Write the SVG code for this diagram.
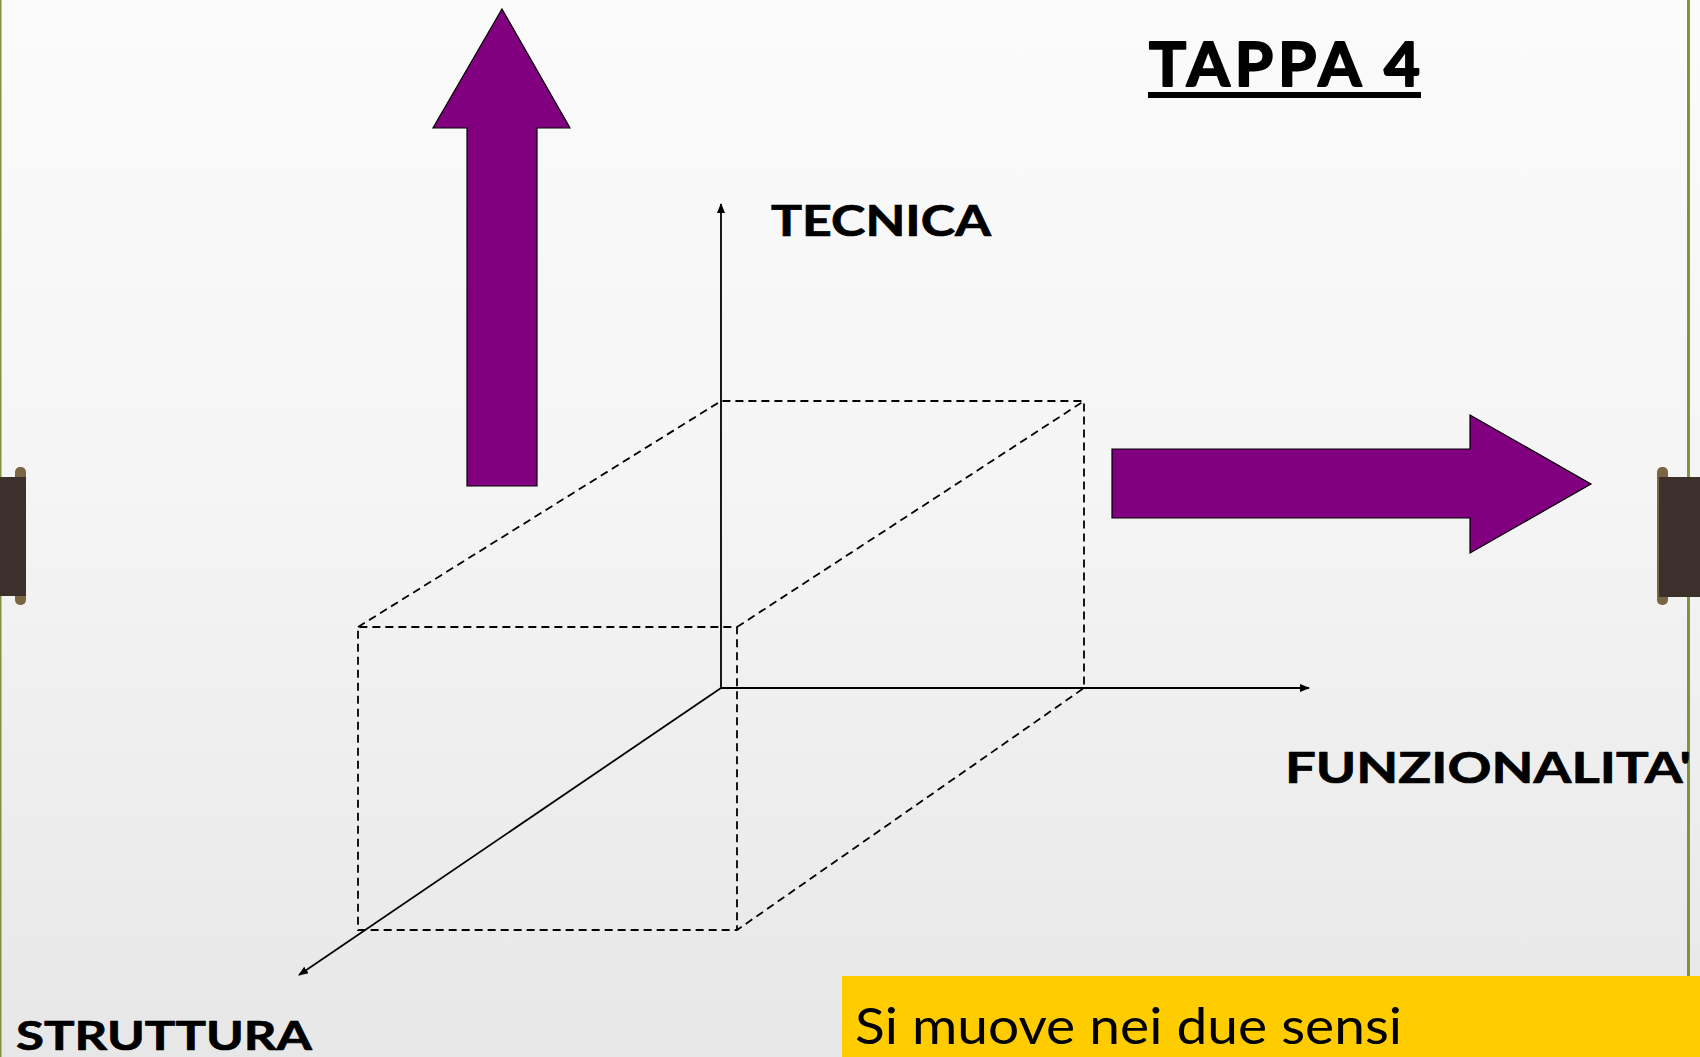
<svg xmlns="http://www.w3.org/2000/svg" width="1700" height="1057" viewBox="0 0 1700 1057">
<style>
.ax{fill:none;stroke:#000;stroke-width:1.8}
.da{fill:none;stroke:#000;stroke-width:1.8;stroke-dasharray:8 5}
.big{fill:#800080;stroke:#000;stroke-width:1.2}
.tab{fill:#3b302b}
.knob{fill:#7a6544}
.lb{font-family:"Lato","Open Sans",sans-serif;font-weight:700;fill:#000;stroke:#000;stroke-width:.7;stroke-linejoin:round}
</style>
<defs>
<linearGradient id="bg" x1="0" y1="0" x2="0" y2="1"><stop offset="0" stop-color="#fbfbfb"/><stop offset=".45" stop-color="#f5f5f5"/><stop offset="1" stop-color="#e7e7e7"/></linearGradient>
<marker id="ah" markerWidth="12" markerHeight="10" refX="9" refY="4" orient="auto" markerUnits="userSpaceOnUse"><path d="M0 0L10 4L0 8Z" fill="#000"/></marker>
</defs>
<rect id="background" width="1700" height="1057" fill="url(#bg)"/>
<g id="frame">
<rect x="0" y="0" width="1.5" height="1057" fill="#7f9440"/>
<rect x="1687" y="0" width="3" height="976" fill="#7f9440"/>
<rect class="knob" x="15" y="467" width="11" height="138" rx="5"/>
<rect class="tab" x="0" y="477" width="26" height="119"/>
<rect class="knob" x="1657" y="467" width="11" height="138" rx="5"/>
<rect class="tab" x="1659" y="477" width="41" height="120"/>
</g>
<g id="connectors">
<path class="ax" d="M721 688V204" marker-end="url(#ah)"/>
<path class="ax" d="M721 688H1309" marker-end="url(#ah)"/>
<path class="ax" d="M721 688L299 975" marker-end="url(#ah)"/>
<path class="da" d="M358 627L721 401H1084V688L737 930H358V627H737V930"/>
<path class="da" d="M737 627L1084 401"/>
</g>
<g id="arrow-up"><path class="big" d="M502 9L570 128H537V486H467V128H433Z"/></g>
<g id="arrow-right"><path class="big" d="M1112 449H1470V415L1591 484L1470 553V518H1112Z"/></g>
<g id="title">
<text class="lb" x="1149" y="86" font-size="62" textLength="271" lengthAdjust="spacing" style="stroke-width:2">TAPPA 4</text>
<rect x="1148" y="92" width="273" height="6" fill="#000"/>
</g>
<g id="label-tecnica"><text class="lb" x="771" y="236" font-size="42" textLength="220" lengthAdjust="spacingAndGlyphs">TECNICA</text></g>
<g id="label-funzionalita"><text class="lb" x="1285" y="783" font-size="42" textLength="406" lengthAdjust="spacingAndGlyphs">FUNZIONALITA'</text></g>
<g id="label-struttura"><text class="lb" x="16" y="1050" font-size="40" textLength="296" lengthAdjust="spacingAndGlyphs">STRUTTURA</text></g>
<g id="note">
<rect x="842" y="976" width="858" height="81" fill="#ffcc00"/>
<text x="855" y="1044" font-family="Lato,'Open Sans',sans-serif" font-size="50" fill="#000" textLength="547" lengthAdjust="spacingAndGlyphs">Si muove nei due sensi</text>
</g>
</svg>
